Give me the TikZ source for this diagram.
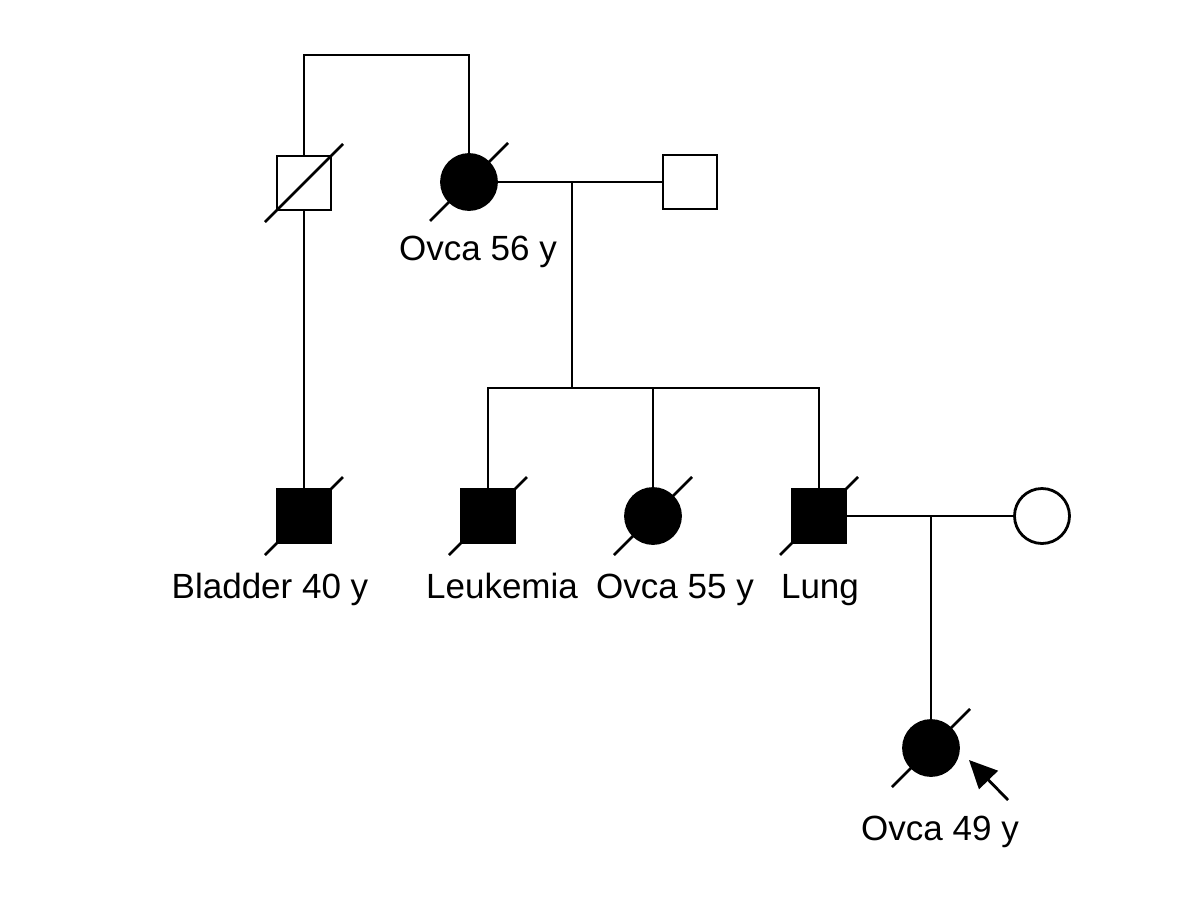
\documentclass[tikz,border=0pt]{standalone}
\usepackage{fontspec}
\setmainfont{Liberation Sans}
\usetikzlibrary{calc,arrows.meta}
\begin{document}
\begin{tikzpicture}[x=1pt,y=-1pt,
  ln/.style={line width=2.8pt,line cap=butt},
  male/.style={rectangle,draw,line width=2.8pt,minimum size=54pt,inner sep=0pt,fill=white},
  female/.style={circle,draw,line width=2.8pt,minimum size=55pt,inner sep=0pt,fill=white},
  aff/.style={fill=black},
  lbl/.style={font=\fontsize{35}{40}\selectfont,anchor=base,inner sep=0pt}]
\useasboundingbox (0,0) rectangle (1200,900);
% nodes
\node[male] (gf) at (304,183) {};
\node[female,aff] (gm) at (469,182) {};
\node[male] (gm2) at (690,182) {};
\node[male,aff] (blad) at (304,516) {};
\node[male,aff] (leuk) at (488,516) {};
\node[female,aff] (ov55) at (653,516) {};
\node[male,aff] (lung) at (819,516) {};
\node[female] (wife) at (1042,516) {};
\node[female,aff] (prob) at (931,748) {};
% labels
\node[lbl] (t56) at (478,260) {Ovca 56 y};
\node[lbl] (tbl) at (270,598) {Bladder 40 y};
\node[lbl] (tle) at (502,598) {Leukemia};
\node[lbl] (t55) at (675,598) {Ovca 55 y};
\node[lbl] (tlu) at (820,598) {Lung};
\node[lbl] (t49) at (940,840) {Ovca 49 y};
% coordinates
\coordinate (top) at (385,55);
\coordinate (m1) at (572,182);
\coordinate (s1) at (572,388);
\coordinate (m2) at (931,516);
\coordinate (arT) at (1008,800);
\coordinate (arH) at (969,760);
% connectors
\draw[ln] (gf.north) |- (top) -| (gm.north);
\draw[ln] (gf.south) -- (blad.north);
\draw[ln] (gm.east) -- (gm2.west);
\draw[ln] (m1) -- (s1);
\draw[ln] (leuk.north) |- (s1) -| (lung.north);
\draw[ln] (ov55.north) -- (ov55.north |- s1);
\draw[ln] (lung.east) -- (wife.west);
\draw[ln] (m2) -- (prob.north);
% deceased slashes
\foreach \n in {gf,gm,blad,leuk,ov55,lung,prob}
  \draw[ln] ($(\n)+(-39,39)$) -- ($(\n)+(39,-39)$);
% proband arrow
\draw[ln,-{Triangle[length=28pt,width=26pt]}] (arT) -- (arH);
\end{tikzpicture}
\end{document}
